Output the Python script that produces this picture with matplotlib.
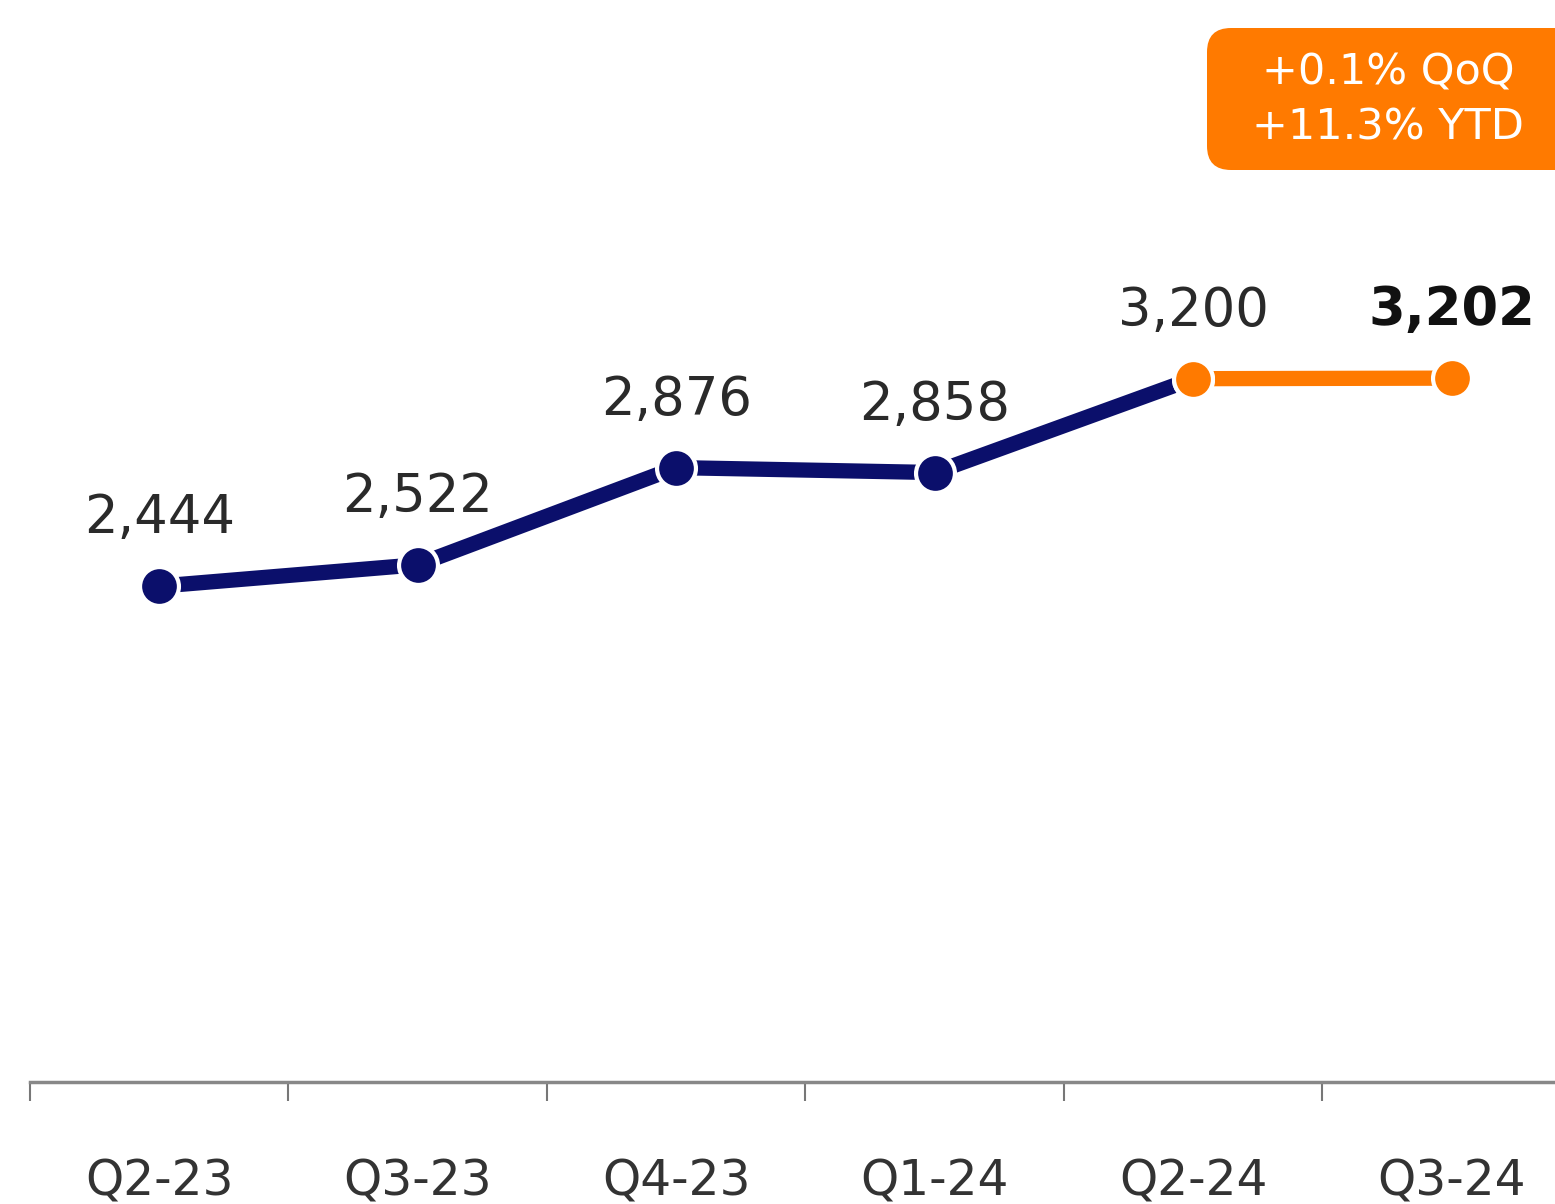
#Line chart of quarterly values with a highlighted last segment
import matplotlib.pyplot as plt
from matplotlib.patches import FancyBboxPatch
from matplotlib.transforms import IdentityTransform

#Data
quarters = ["Q2-23", "Q3-23", "Q4-23", "Q1-24", "Q2-24", "Q3-24"]
values = [2444, 2522, 2876, 2858, 3200, 3202]
value_labels = ["2,444", "2,522", "2,876", "2,858", "3,200", "3,202"]
badge_lines = ["+0.1% QoQ", "+11.3% YTD"]

navy = "#0b0f6b"
orange = "#ff7a00"

plt.rcParams['font.family'] = ['DejaVu Sans']

fig = plt.figure(figsize=(15.55, 12.04), dpi=100)
ax = fig.add_axes([30 / 1555, 122 / 1204, 1 - 30 / 1555, 1 - 122 / 1204])

x = list(range(len(quarters)))

#Blue part up to Q2-24, orange last segment
ax.plot(x[:5], values[:5], color=navy, lw=11, solid_capstyle='round', zorder=2)
ax.plot(x[:5], values[:5], 'o', color=navy, ms=28, mec='white', mew=3, zorder=3)
ax.plot(x[4:], values[4:], color=orange, lw=11, zorder=2)
ax.plot(x[4:], values[4:], 'o', color=orange, ms=28, mec='white', mew=3, zorder=4)

#Value labels
for i, (v, lab) in enumerate(zip(values, value_labels)):
    bold = i == len(values) - 1
    ax.annotate(lab, (i, v), xytext=(0, 38), textcoords='offset points',
                ha='center', va='baseline', fontsize=38,
                fontweight='bold' if bold else 'normal',
                color='#111111' if bold else '#2a2a2a')

#Boundary ticks between categories, labels at the centres
ax.set_xticks([i - 0.5 for i in range(7)])
ax.set_xticklabels([])
ax.set_xticks(x, minor=True)
ax.set_xticklabels(quarters, minor=True, fontsize=35, color='#333333')
ax.tick_params(axis='x', which='major', direction='out', length=14, width=1.5, color='#777777')
ax.tick_params(axis='x', which='minor', length=0, pad=54)
ax.set_yticks([])

ax.set_xlim(-0.5, 5.4)
ax.set_ylim(637, 4580)

for s in ['top', 'right', 'left']:
    ax.spines[s].set_visible(False)
ax.spines['bottom'].set_color('#888888')
ax.spines['bottom'].set_linewidth(2.5)

#Orange badge in the top right corner (pixel coordinates)
badge = FancyBboxPatch((1207, 1204 - 170), 400, 142,
                       boxstyle='round,pad=0,rounding_size=24',
                       facecolor=orange, edgecolor='none',
                       transform=IdentityTransform())
fig.add_artist(badge)
fig.text(1388 / 1555, (1204 - 73) / 1204, badge_lines[0], ha='center', va='center',
         fontsize=31, color='white')
fig.text(1388 / 1555, (1204 - 128) / 1204, badge_lines[1], ha='center', va='center',
         fontsize=31, color='white')

plt.savefig('out.png', dpi=100)
